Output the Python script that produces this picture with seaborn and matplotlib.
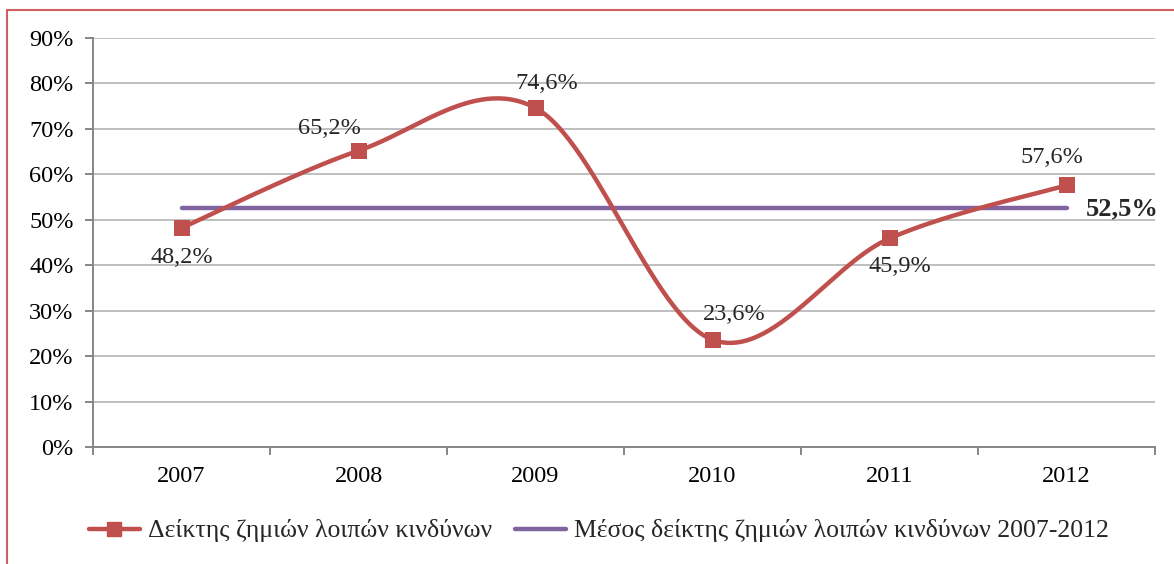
import numpy as np
import pandas as pd
import seaborn as sns
import matplotlib.pyplot as plt
from matplotlib.lines import Line2D
from matplotlib.patches import Rectangle
from matplotlib.ticker import FixedLocator

years = ["2007", "2008", "2009", "2010", "2011", "2012"]
ratio = [48.2, 65.2, 74.6, 23.6, 45.9, 57.6]
avg_ratio = 52.5
y_ticks = [0, 10, 20, 30, 40, 50, 60, 70, 80, 90]
series_label = "Δείκτης ζημιών λοιπών κινδύνων"
avg_label = "Μέσος δείκτης ζημιών λοιπών κινδύνων 2007-2012"

# where each data label sits relative to its point (pixels)
label_offsets = [(0, -30), (-29, 22), (11, 24), (22, 25), (10, -28), (-15, 28)]

RED = "#C0504D"
PURPLE = "#8064A2"

sns.set_theme(style="white")
plt.rcParams["font.family"] = ["Liberation Serif", "DejaVu Serif"]


def smooth(xp, yp, n=60):
    # Excel-like smoothed line (Catmull-Rom through the points)
    P = np.column_stack([xp, yp]).astype(float)
    P = np.vstack([P[0], P, P[-1]])
    out = []
    for i in range(1, len(P) - 2):
        p0, p1, p2, p3 = P[i - 1], P[i], P[i + 1], P[i + 2]
        c1 = p1 + (p2 - p0) / 6
        c2 = p2 - (p3 - p1) / 6
        t = np.linspace(0, 1, n)[:, None]
        seg = ((1 - t) ** 3) * p1 + 3 * ((1 - t) ** 2) * t * c1 + 3 * (1 - t) * t ** 2 * c2 + t ** 3 * p2
        out.append(seg if i == 1 else seg[1:])
    out = np.vstack(out)
    return out[:, 0], out[:, 1]


df = pd.DataFrame({"pos": np.arange(len(years)), "ratio": ratio})
sx, sy = smooth(df["pos"], df["ratio"])
curve = pd.DataFrame({"x": sx, "y": sy})
avg_df = pd.DataFrame({"x": [df["pos"].min(), df["pos"].max()], "y": [avg_ratio, avg_ratio]})

fig = plt.figure(figsize=(11.74, 5.64), dpi=100)
ax = fig.add_axes([93 / 1174, 1 - 447 / 564, (1155 - 93) / 1174, (447 - 38) / 564])

sns.lineplot(data=avg_df, x="x", y="y", color=PURPLE, lw=3.2, ax=ax,
             solid_capstyle="round", zorder=3)
sns.lineplot(data=curve, x="x", y="y", sort=False, color=RED, lw=3.2, ax=ax, zorder=4)
sns.scatterplot(data=df, x="pos", y="ratio", marker="s", s=130, color=RED,
                edgecolor=RED, linewidth=0, ax=ax, zorder=5)

for (i, v), (dx, dy) in zip(enumerate(ratio), label_offsets):
    ax.annotate(f"{v:.1f}%".replace(".", ","), (i, v), xytext=(dx, dy),
                textcoords="offset pixels", ha="center", va="center", fontsize=17.5)
ax.annotate(f"{avg_ratio:.1f}%".replace(".", ","), (df["pos"].max(), avg_ratio),
            xytext=(19, 0), textcoords="offset pixels", ha="left", va="center",
            fontsize=19, fontweight="bold")

ax.set_xlim(-0.5, len(years) - 0.5)
ax.set_ylim(0, 90)
ax.set_xticks(df["pos"])
ax.set_xticklabels(years)
ax.xaxis.set_minor_locator(FixedLocator(np.arange(-0.5, len(years), 1)))
ax.set_yticks(y_ticks)
ax.set_yticklabels([f"{t}%" for t in y_ticks])
ax.set_xlabel("")
ax.set_ylabel("")

ax.grid(axis="y", color="#BFBFBF", lw=1.4)
ax.set_axisbelow(True)
for s in ["top", "right"]:
    ax.spines[s].set_visible(False)
for s in ["left", "bottom"]:
    ax.spines[s].set_color("#868686")
    ax.spines[s].set_linewidth(1.4)
ax.tick_params(axis="x", which="major", length=0, pad=14, labelsize=17.5, colors="black")
ax.tick_params(axis="x", which="minor", length=6, width=1.4, color="#868686", bottom=True)
ax.tick_params(axis="y", length=6, width=1.4, color="#868686", left=True, pad=8,
               labelsize=17.5, labelcolor="black")

handles = [
    Line2D([], [], color=RED, lw=3.2, marker="s", markersize=10),
    Line2D([], [], color=PURPLE, lw=3.2, solid_capstyle="round"),
]
fig.legend(handles, [series_label, avg_label], loc="center", bbox_to_anchor=(0.51, 1 - 531 / 564),
           ncol=2, frameon=False, fontsize=18.5, handlelength=2.0, handletextpad=0.3,
           columnspacing=0.9)

fig.patches.append(Rectangle((7 / 1174, -0.05), 1.1, 1 - 10 / 564 + 0.05,
                             transform=fig.transFigure, fill=False, edgecolor="#D06060",
                             lw=1.5))

fig.savefig("out.png", dpi=100)
